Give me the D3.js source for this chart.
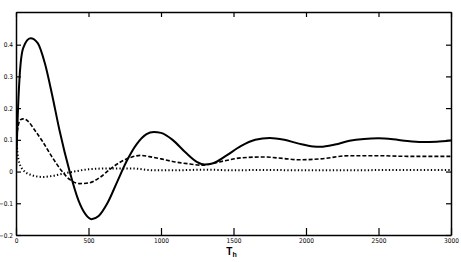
<!DOCTYPE html>
<html>
<head>
<meta charset="utf-8">
<script src="https://cdn.jsdelivr.net/npm/d3@7"></script>
<style>
  body { margin: 0; background: #fff; }
  svg { display: block; }
  .tick text { font-family: "DejaVu Sans Condensed", "Liberation Sans Narrow", "DejaVu Sans", sans-serif; font-size: 6.5px; fill: #000; }
</style>
</head>
<body>
<svg id="chart" width="461" height="262"></svg>
<script>
// values
const tSolid = [0, 10, 25, 50, 100, 150, 200, 250, 300, 370, 430, 480, 520, 570, 630, 700, 760, 830, 900, 950, 1000, 1080, 1170, 1250, 1300, 1360, 1450, 1550, 1650, 1750, 1850, 1950, 2050, 2100, 2200, 2300, 2400, 2500, 2600, 2700, 2800, 2900, 3000];
const vSolid = [0, 0.15, 0.3, 0.39, 0.42, 0.405, 0.34, 0.24, 0.13, 0.0, -0.09, -0.135, -0.15, -0.14, -0.1, -0.03, 0.03, 0.085, 0.118, 0.125, 0.122, 0.1, 0.06, 0.03, 0.022, 0.026, 0.05, 0.08, 0.1, 0.106, 0.1, 0.088, 0.079, 0.078, 0.085, 0.097, 0.103, 0.105, 0.102, 0.096, 0.093, 0.094, 0.098];

const tDashed = [0, 10, 30, 50, 80, 130, 180, 250, 310, 370, 440, 500, 580, 650, 720, 800, 860, 920, 1000, 1100, 1200, 1280, 1350, 1450, 1550, 1700, 1850, 1950, 2100, 2300, 2500, 2700, 3000];
const vDashed = [0.05, 0.13, 0.163, 0.166, 0.16, 0.13, 0.097, 0.045, 0.005, -0.025, -0.038, -0.036, -0.018, 0.008, 0.03, 0.046, 0.051, 0.047, 0.04, 0.03, 0.024, 0.02, 0.025, 0.035, 0.043, 0.046, 0.041, 0.037, 0.04, 0.05, 0.05, 0.048, 0.048];

const tDotted = [0, 10, 25, 50, 100, 180, 250, 320, 400, 500, 650, 800, 950, 1100, 1300, 1500, 1700, 2000, 2300, 2600, 3000];
const vDotted = [0.12, 0.06, 0.025, 0.005, -0.01, -0.017, -0.014, -0.007, 0.0, 0.007, 0.01, 0.01, 0.004, 0.004, 0.006, 0.004, 0.005, 0.004, 0.004, 0.005, 0.005];

const xTicks = [0, 500, 1000, 1500, 2000, 2500, 3000];
const yTicks = [-0.2, -0.1, 0, 0.1, 0.2, 0.3, 0.4];

const svg = d3.select('#chart');
const margin = {top: 12, right: 10, bottom: 27, left: 16},
    chartWidth = 461 - margin.left - margin.right,
    chartHeight = 262 - margin.top - margin.bottom;

const xScale = d3.scaleLinear().domain([0, 3000]).range([0, chartWidth]);
const yScale = d3.scaleLinear().domain([-0.2, 0.503]).range([chartHeight, 0]);

const g = svg.append('g')
    .attr('transform', `translate(${margin.left}, ${margin.top})`);

// clip to frame
g.append('clipPath').attr('id', 'clip')
  .append('rect').attr('width', chartWidth).attr('height', chartHeight);

const line = d3.line()
    .x(d => xScale(d[0]))
    .y(d => yScale(d[1]))
    .curve(d3.curveMonotoneX);

const series = [
  {t: tSolid, v: vSolid, w: 2, dash: null},
  {t: tDashed, v: vDashed, w: 1.6, dash: '4,2'},
  {t: tDotted, v: vDotted, w: 2, dash: '1.3,2.2'}
];

series.forEach(s => {
  g.append('path')
    .datum(s.t.map((t, i) => [t, s.v[i]]))
    .attr('clip-path', 'url(#clip)')
    .attr('fill', 'none')
    .attr('stroke', '#000')
    .attr('stroke-width', s.w)
    .attr('stroke-dasharray', s.dash)
    .attr('d', line);
});

// frame axes, ticks pointing in
const fmt = d => d === 0 ? '0' : d3.format('.1f')(d);

g.append('g')
    .attr('transform', `translate(0, ${chartHeight})`)
    .call(d3.axisBottom(xScale).tickValues(xTicks).tickSizeInner(-7).tickSizeOuter(0).tickPadding(3).tickFormat(d3.format('d')));

g.append('g')
    .call(d3.axisTop(xScale).tickValues(xTicks).tickSizeInner(-5).tickSizeOuter(0).tickFormat(''));

g.append('g')
    .call(d3.axisLeft(yScale).tickValues(yTicks).tickSizeInner(-5).tickSizeOuter(0).tickPadding(3).tickFormat(fmt));

g.append('g')
    .attr('transform', `translate(${chartWidth}, 0)`)
    .call(d3.axisRight(yScale).tickValues(yTicks).tickSizeInner(-5).tickSizeOuter(0).tickFormat(''));

g.selectAll('.domain').attr('stroke', '#000').attr('stroke-width', 1.5);
g.selectAll('.tick line').attr('stroke', '#000').attr('stroke-width', 1.2);

// axis title
svg.append('text')
    .attr('x', margin.left + xScale(1500) - 2)
    .attr('y', 255)
    .attr('text-anchor', 'middle')
    .style('font-family', 'Liberation Sans, sans-serif')
    .style('font-size', '10px')
    .style('font-weight', 'bold')
    .text('T')
  .append('tspan')
    .attr('dy', 2)
    .style('font-size', '7px')
    .text('h');
</script>
</body>
</html>
